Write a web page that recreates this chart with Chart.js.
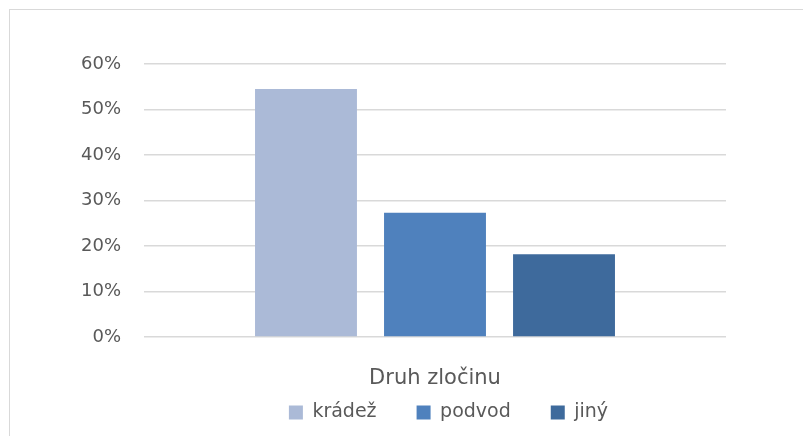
<!DOCTYPE html>
<html lang="cs">
<head>
    <meta charset="UTF-8">
    <title>Druh zločinu</title>
    <style>
        html, body {
            margin: 0;
            padding: 0;
            background: #fff;
            overflow: hidden;
        }
        .frame {
            position: absolute;
            left: 9px;
            top: 9px;
            width: 900px;
            height: 500px;
            border: 1px solid #d9d9d9;
        }
        .chart-box {
            position: absolute;
            left: 0;
            top: 0;
            width: 803px;
            height: 436px;
        }
    </style>
</head>
<body>
    <div class="frame"></div>
    <div class="chart-box">
        <canvas id="barChart"></canvas>
    </div>

    <script src="https://cdn.jsdelivr.net/npm/chart.js"></script>
    <script>
// data
const categories = ['Druh zločinu'];
const seriesNames = ['krádež', 'podvod', 'jiný'];
const seriesValues = [54.5, 27.3, 18.2];
const seriesColors = ['#abbad7', '#4f81bd', '#3e6a9c'];
const yTicks = [0, 10, 20, 30, 40, 50, 60];

const textColor = '#595959';
const fontFamily = '"DejaVu Sans", sans-serif';

const datasets = seriesNames.map(function (name, i) {
    return {
        label: name,
        data: [seriesValues[i]],
        backgroundColor: seriesColors[i],
        borderWidth: 0,
        categoryPercentage: 0.665,
        barPercentage: 0.79
    };
});

const ctx = document.getElementById('barChart').getContext('2d');
const chart = new Chart(ctx, {
    type: 'bar',
    data: {
        labels: categories,
        datasets: datasets
    },
    options: {
        responsive: true,
        maintainAspectRatio: false,
        animation: false,
        layout: {
            padding: { left: 80, right: 0, top: 64, bottom: 0 }
        },
        plugins: {
            tooltip: { enabled: false },
            legend: {
                position: 'bottom',
                labels: {
                    boxWidth: 14,
                    boxHeight: 14,
                    padding: 40,
                    color: textColor,
                    font: { family: fontFamily, size: 19 }
                }
            }
        },
        scales: {
            x: {
                grid: { display: false, drawTicks: false },
                border: { display: false },
                afterFit: function (scale) { scale.height = 58; },
                ticks: {
                    color: textColor,
                    padding: 29,
                    font: { family: fontFamily, size: 21 }
                }
            },
            y: {
                min: yTicks[0],
                max: yTicks[yTicks.length - 1],
                afterFit: function (scale) { scale.width = 64; },
                afterBuildTicks: function (scale) {
                    scale.ticks = yTicks.map(function (v) { return { value: v }; });
                },
                grid: { color: '#d9d9d9', lineWidth: 1.5, drawTicks: false },
                border: { display: false },
                ticks: {
                    color: textColor,
                    padding: 23,
                    font: { family: fontFamily, size: 18 },
                    callback: function (v) { return v + '%'; }
                }
            },
            // empty right-hand spacer so the plot ends where the reference's does
            spacer: {
                type: 'linear',
                position: 'right',
                display: true,
                grid: { display: false, drawTicks: false },
                border: { display: false },
                ticks: { display: false },
                afterFit: function (scale) { scale.width = 77; }
            }
        }
    }
});

// keep the legend's wide item spacing without its tall vertical padding
const legendFit = chart.legend.fit;
chart.legend.fit = function () {
    legendFit.call(this);
    this.height = 41;
};
const legendInnerDraw = chart.legend._draw;
chart.legend._draw = function () {
    ctx.save();
    ctx.translate(7, -32);
    legendInnerDraw.apply(this, arguments);
    ctx.restore();
};
chart.update();
    </script>
</body>
</html>
